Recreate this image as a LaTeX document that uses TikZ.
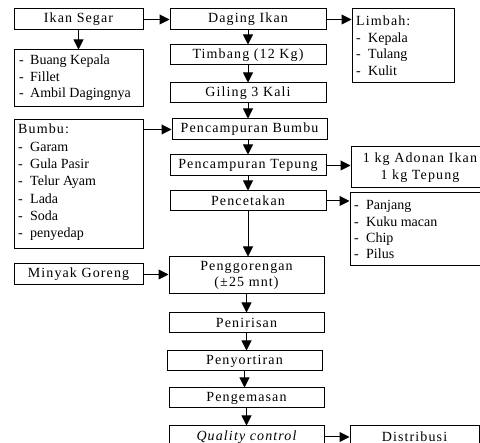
\documentclass[tikz,border=0pt]{standalone}
\usepackage{fontspec}
\setmainfont{Liberation Serif}
\newfontfamily\spacedfont[LetterSpace=8]{Liberation Serif}
\usetikzlibrary{arrows.meta}
\begin{document}
\begin{tikzpicture}[x=1pt,y=-1pt,
  box/.style={draw=black, line width=1pt, inner sep=0pt, align=center,
    font=\spacedfont\fontsize{14}{16.6}\selectfont},
  arr/.style={line width=1pt, -{Triangle[length=10pt,width=10pt]}},
  lst/.style={inner sep=0pt, anchor=base west}]
\useasboundingbox (0,0) rectangle (480,443);
\clip (0,0) rectangle (480,443);
% boxes
\node[box, minimum width=129pt, minimum height=21pt] (ikan) at (78.5,19.5) {Ikan Segar};
\node[box, minimum width=129pt, minimum height=57pt] (buang) at (78.5,78.5) {};
\node[box, minimum width=156pt, minimum height=21pt] (daging) at (248,19.5) {Daging Ikan};
\node[box, minimum width=102pt, minimum height=74pt] (limbah) at (403,46) {};
\node[box, minimum width=156pt, minimum height=20pt] (timbang) at (248,55) {Timbang (12 Kg)};
\node[box, minimum width=156pt, minimum height=20pt] (giling) at (248,93) {Giling 3 Kali};
\node[box, minimum width=155pt, minimum height=21pt] (pbumbu) at (249.5,129.5) {Pencampuran Bumbu};
\node[box, minimum width=156pt, minimum height=21pt] (ptepung) at (248,165.5) {Pencampuran Tepung};
\node[box, minimum width=156pt, minimum height=20pt] (cetak) at (248,201) {Pencetakan};
\node[box, minimum width=129pt, minimum height=129pt] (bumbu) at (78.5,184.5) {};
\node[box, minimum width=138pt, minimum height=41pt] (kg) at (420,167.5) {1 kg Adonan Ikan\\1 kg Tepung};
\node[box, minimum width=139pt, minimum height=73pt] (panjang) at (419.5,229.5) {};
\node[box, minimum width=155pt, minimum height=37pt] (goreng) at (246.5,275.5) {Penggorengan\\(±25 mnt)};
\node[box, minimum width=129pt, minimum height=21pt] (minyak) at (78.5,274.5) {Minyak Goreng};
\node[box, minimum width=155pt, minimum height=20pt] (tiris) at (246.5,323) {Penirisan};
\node[box, minimum width=155pt, minimum height=20pt] (sortir) at (244.5,361) {Penyortiran};
\node[box, minimum width=155pt, minimum height=20pt] (kemas) at (246.5,398) {Pengemasan};
\node[box, minimum width=155pt, minimum height=22pt] (qc) at (246.5,437) {\itshape Quality control};
\node[box, minimum width=129pt, minimum height=22pt] (distribusi) at (414.5,437) {Distribusi};
% list texts
\node[lst] (buangtxt) at (19,65) {\fontsize{14}{16.4}\selectfont
  \begin{tabular}[t]{@{}p{11pt}@{}l@{}}- & Buang Kepala\\- & Fillet\\- & Ambil Dagingnya\end{tabular}};
\node[lst] (limbahtxt) at (356,26) {\fontsize{14}{16.4}\selectfont
  \begin{tabular}[t]{@{}p{12pt}@{}l@{}}\multicolumn{2}{@{}l@{}}{\spacedfont Limbah:}\\- & Kepala\\- & Tulang\\- & Kulit\end{tabular}};
\node[lst] (bumbutxt) at (18,134) {\fontsize{14}{17.3}\selectfont
  \begin{tabular}[t]{@{}p{12pt}@{}l@{}}\multicolumn{2}{@{}l@{}}{\spacedfont Bumbu:}\\- & Garam\\- & Gula Pasir\\- & Telur Ayam\\- & Lada\\- & Soda\\- & penyedap\end{tabular}};
\node[lst] (panjangtxt) at (354,210) {\fontsize{14}{16.1}\selectfont
  \begin{tabular}[t]{@{}p{12pt}@{}l@{}}- & Panjang\\- & Kuku macan\\- & Chip\\- & Pilus\end{tabular}};
% arrows
\draw[arr] (ikan) -- (daging);
\draw[arr] (ikan) -- (buang);
\draw[arr] (daging.east) -- (daging.east -| limbah.west);
\draw[arr] (daging) -- (timbang);
\draw[arr] (timbang) -- (giling);
\draw[arr] (giling.south) -- (giling.south |- pbumbu.north);
\draw[arr] (bumbu.east |- pbumbu.west) -- (pbumbu.west);
\draw[arr] (pbumbu.south -| ptepung.north) -- (ptepung.north);
\draw[arr] (ptepung) -- (cetak);
\draw[arr] (ptepung.east) -- (ptepung.east -| kg.west);
\draw[arr] (cetak.east) -- (cetak.east -| panjang.west);
\draw[arr] (cetak.south) -- (cetak.south |- goreng.north);
\draw[arr] (minyak.east) -- (minyak.east -| goreng.west);
\draw[arr] (goreng) -- (tiris);
\draw[arr] (tiris.south) -- (tiris.south |- sortir.north);
\draw[arr] (sortir.south) -- (sortir.south |- kemas.north);
\draw[arr] (kemas) -- (qc);
\draw[arr] (qc) -- (distribusi);
\end{tikzpicture}
\end{document}
